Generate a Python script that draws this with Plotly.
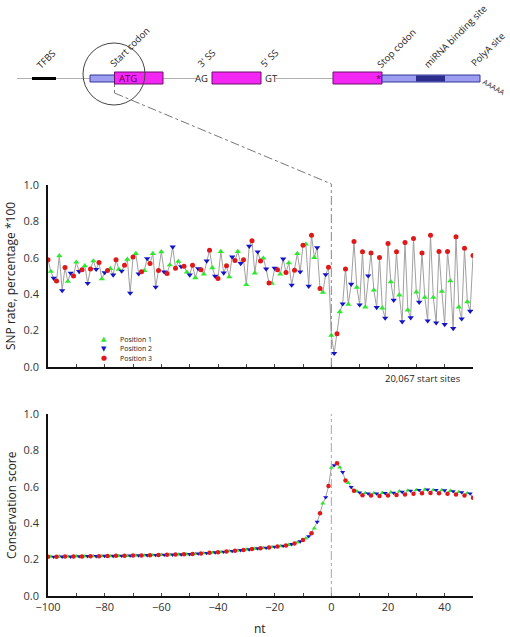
import plotly.graph_objects as go

# ---------------- data ----------------
nt = list(range(-100, 51))

snp_rate = [
    0.589, 0.525, 0.488, 0.472, 0.611, 0.420, 0.547, 0.470, 0.516, 0.500,
    0.576, 0.525, 0.534, 0.556, 0.460, 0.539, 0.583, 0.537, 0.574, 0.484,
    0.519, 0.530, 0.541, 0.506, 0.589, 0.537, 0.527, 0.559, 0.592, 0.406,
    0.605, 0.623, 0.512, 0.523, 0.530, 0.596, 0.569, 0.623, 0.439, 0.530,
    0.633, 0.523, 0.514, 0.561, 0.660, 0.543, 0.580, 0.552, 0.554, 0.521,
    0.506, 0.559, 0.490, 0.541, 0.534, 0.510, 0.583, 0.642, 0.545, 0.499,
    0.486, 0.634, 0.517, 0.556, 0.495, 0.605, 0.585, 0.634, 0.569, 0.589,
    0.452, 0.664, 0.693, 0.516, 0.633, 0.583, 0.598, 0.539, 0.461, 0.459,
    0.543, 0.534, 0.510, 0.594, 0.519, 0.572, 0.450, 0.532, 0.623, 0.523,
    0.669, 0.675, 0.444, 0.724, 0.601, 0.656, 0.431, 0.410, 0.508, 0.548,
    0.174, 0.075, 0.183, 0.303, 0.347, 0.539, 0.344, 0.455, 0.689, 0.437,
    0.342, 0.633, 0.329, 0.501, 0.627, 0.422, 0.327, 0.601, 0.324, 0.269,
    0.678, 0.468, 0.367, 0.633, 0.395, 0.249, 0.684, 0.313, 0.271, 0.706,
    0.411, 0.356, 0.627, 0.382, 0.254, 0.724, 0.382, 0.243, 0.634, 0.415,
    0.234, 0.634, 0.473, 0.212, 0.715, 0.329, 0.265, 0.653, 0.358, 0.307, 0.612,
]

conservation = [
    0.215, 0.216, 0.215, 0.216, 0.217, 0.216, 0.217, 0.217, 0.216, 0.217,
    0.218, 0.218, 0.217, 0.218, 0.219, 0.218, 0.219, 0.219, 0.218, 0.219,
    0.220, 0.220, 0.219, 0.220, 0.221, 0.220, 0.221, 0.221, 0.220, 0.222,
    0.222, 0.222, 0.223, 0.223, 0.223, 0.224, 0.224, 0.224, 0.225, 0.225,
    0.226, 0.226, 0.226, 0.227, 0.227, 0.228, 0.228, 0.228, 0.229, 0.229,
    0.230, 0.231, 0.232, 0.233, 0.234, 0.235, 0.236, 0.237, 0.238, 0.239,
    0.240, 0.241, 0.243, 0.244, 0.246, 0.247, 0.249, 0.250, 0.252, 0.253,
    0.255, 0.256, 0.258, 0.259, 0.261, 0.262, 0.264, 0.265, 0.267, 0.268,
    0.270, 0.272, 0.274, 0.276, 0.278, 0.281, 0.285, 0.289, 0.294, 0.300,
    0.308, 0.317, 0.328, 0.345, 0.372, 0.407, 0.454, 0.509, 0.542, 0.604,
    0.705, 0.718, 0.729, 0.707, 0.680, 0.634, 0.622, 0.598, 0.578, 0.575,
    0.568, 0.553, 0.566, 0.563, 0.552, 0.565, 0.563, 0.550, 0.567, 0.565,
    0.552, 0.570, 0.567, 0.555, 0.575, 0.572, 0.558, 0.580, 0.578, 0.562,
    0.583, 0.582, 0.565, 0.585, 0.585, 0.566, 0.583, 0.582, 0.565, 0.582,
    0.580, 0.562, 0.578, 0.575, 0.558, 0.572, 0.570, 0.552, 0.565, 0.563, 0.540,
]

position_names = ["Position 1", "Position 2", "Position 3"]
position_colors = ["#2ee82e", "#1414c8", "#e01818"]
position_symbols = ["triangle-up", "triangle-down", "circle"]

gene_labels = ["TFBS", "Start codon", "3' SS", "5' SS", "Stop codon",
               "miRNA binding site", "PolyA site"]

# ---------------- layout helpers ----------------
W, H = 510, 637
FONT = "Open Sans, Noto Sans, sans-serif"


def px(x):
    return x / W


def py(y):
    return 1 - y / H


fig = go.Figure()

# --- SNP rate panel (top) ---
fig.add_trace(go.Scatter(x=nt, y=snp_rate, mode="lines",
                         line=dict(color="#a0a0a0", width=1),
                         showlegend=False, hoverinfo="skip",
                         xaxis="x", yaxis="y"))
snp_sizes = [5.5, 5.5, 5]
for k in range(3):
    xs = [x for x in nt if x % 3 == k]
    ys = [v for x, v in zip(nt, snp_rate) if x % 3 == k]
    fig.add_trace(go.Scatter(x=xs, y=ys, mode="markers", name=position_names[k],
                             marker=dict(color=position_colors[k],
                                         symbol=position_symbols[k], size=snp_sizes[k],
                                         line=dict(width=0)),
                             showlegend=False, xaxis="x", yaxis="y"))

# --- Conservation panel (bottom) ---
fig.add_trace(go.Scatter(x=nt, y=conservation, mode="lines",
                         line=dict(color="#a0a0a0", width=1),
                         showlegend=False, hoverinfo="skip",
                         xaxis="x2", yaxis="y2"))
for k in range(3):
    xs = [x for x in nt if x % 3 == k]
    ys = [v for x, v in zip(nt, conservation) if x % 3 == k]
    fig.add_trace(go.Scatter(x=xs, y=ys, mode="markers", name=position_names[k],
                             marker=dict(color=position_colors[k],
                                         symbol=position_symbols[k], size=4.5,
                                         line=dict(width=0)),
                             showlegend=False, xaxis="x2", yaxis="y2"))

xdom = [px(48), px(473)]
tick_font = dict(family=FONT, size=11, color="#333333")

common_x = dict(range=[-100, 50], domain=xdom, showgrid=False, zeroline=False,
                showline=True, linecolor="#111111", linewidth=2,
                ticks="inside", ticklen=3, tickcolor="#444444",
                tickfont=tick_font, automargin=False, fixedrange=True)
common_y = dict(range=[0, 1], showgrid=False, zeroline=False, showline=True,
                linecolor="#111111", linewidth=1.5, ticks="",
                tickvals=[0, 0.2, 0.4, 0.6, 0.8, 1.0],
                ticktext=["0.0", "0.2", "0.4", "0.6", "0.8", "1.0"],
                tickfont=tick_font, automargin=False, fixedrange=True,
                ticklabelstandoff=5)

fig.update_layout(
    width=W, height=H,
    margin=dict(l=0, r=0, t=0, b=0),
    paper_bgcolor="white", plot_bgcolor="white",
    showlegend=False,
    xaxis=dict(common_x, anchor="y", dtick=10, showticklabels=False),
    yaxis=dict(common_y, anchor="x", domain=[py(367), py(185)]),
    xaxis2=dict(common_x, anchor="y2", dtick=20, tick0=-100,
                minor=dict(dtick=10, ticks="inside", ticklen=3, tickcolor="#444444")),
    yaxis2=dict(common_y, anchor="x2", domain=[py(596), py(414)]),
    font=dict(family=FONT, color="#222222"),
)

shapes = []
annotations = []

# vertical reference lines at nt = 0
shapes.append(dict(type="line", xref="x", yref="paper", x0=0, x1=0,
                   y0=py(367), y1=py(184),
                   line=dict(color="#888888", width=1, dash="dashdot")))
shapes.append(dict(type="line", xref="x2", yref="paper", x0=0, x1=0,
                   y0=py(596), y1=py(414),
                   line=dict(color="#a8a8a8", width=1, dash="dashdot")))
# zoom connector from start codon to panel
shapes.append(dict(type="line", xref="paper", yref="paper",
                   x0=px(114.5), y0=py(84), x1=px(114.5), y1=py(93),
                   line=dict(color="#777777", width=1, dash="dot")))
shapes.append(dict(type="line", xref="paper", yref="paper",
                   x0=px(114.5), y0=py(93), x1=px(331.5), y1=py(184),
                   line=dict(color="#777777", width=1, dash="dashdot")))

# --- gene model drawing ---
backbone_y = 78.5
shapes.append(dict(type="line", xref="paper", yref="paper",
                   x0=px(17), x1=px(197), y0=py(backbone_y), y1=py(backbone_y),
                   line=dict(color="#b0b0b0", width=1), layer="below"))
shapes.append(dict(type="line", xref="paper", yref="paper",
                   x0=px(276), x1=px(333), y0=py(backbone_y), y1=py(backbone_y),
                   line=dict(color="#b0b0b0", width=1), layer="below"))
# TFBS
shapes.append(dict(type="rect", xref="paper", yref="paper",
                   x0=px(32), x1=px(56), y0=py(80), y1=py(77),
                   fillcolor="black", line=dict(width=0)))
# 5' UTR
shapes.append(dict(type="rect", xref="paper", yref="paper",
                   x0=px(90), x1=px(115), y0=py(82), y1=py(75),
                   fillcolor="#9c9cf0", line=dict(color="#34349a", width=1)))
# exons (magenta)
for x0, x1 in [(114.5, 163), (212, 261), (333, 382)]:
    shapes.append(dict(type="rect", xref="paper", yref="paper",
                       x0=px(x0), x1=px(x1), y0=py(84), y1=py(72),
                       fillcolor="#f426f4", line=dict(color="#6a106a", width=1)))
# 3' UTR
shapes.append(dict(type="rect", xref="paper", yref="paper",
                   x0=px(382), x1=px(480), y0=py(82), y1=py(75),
                   fillcolor="#9c9cf0", line=dict(color="#34349a", width=1)))
shapes.append(dict(type="rect", xref="paper", yref="paper",
                   x0=px(416), x1=px(445), y0=py(81.5), y1=py(75.5),
                   fillcolor="#2c2c8c", line=dict(width=0)))
# magnifier circle
shapes.append(dict(type="circle", xref="paper", yref="paper",
                   x0=px(83), x1=px(145), y0=py(105), y1=py(43),
                   line=dict(color="#444444", width=1)))

small = dict(family=FONT, size=9.5, color="#222222")

annotations.append(dict(text="ATG", xref="paper", yref="paper",
                        x=px(117), y=py(78.5), xanchor="left", yanchor="middle",
                        showarrow=False, font=dict(family=FONT, size=9.5, color="#5a005a")))
annotations.append(dict(text="*", xref="paper", yref="paper",
                        x=px(378), y=py(78), xanchor="center", yanchor="middle",
                        showarrow=False, font=dict(family=FONT, size=9.5, color="#5a005a")))
annotations.append(dict(text="AG", xref="paper", yref="paper",
                        x=px(210), y=py(78.5), xanchor="right", yanchor="middle",
                        showarrow=False, font=small))
annotations.append(dict(text="GT", xref="paper", yref="paper",
                        x=px(263), y=py(78.5), xanchor="left", yanchor="middle",
                        showarrow=False, font=small))
annotations.append(dict(text="AAAAA", xref="paper", yref="paper",
                        x=px(494), y=py(87), xanchor="center", yanchor="middle",
                        textangle=30, showarrow=False,
                        font=dict(family=FONT, size=7.5, color="#222222")))

label_centers = [(46, 60), (129, 47), (206, 58), (269, 58), (396, 48),
                 (455, 36), (488, 50)]
for lab, (cx, cy) in zip(gene_labels, label_centers):
    annotations.append(dict(text=lab, xref="paper", yref="paper",
                            x=px(cx), y=py(cy), xanchor="center", yanchor="middle",
                            textangle=-45, showarrow=False, font=small))

# axis titles
annotations.append(dict(text="SNP rate, percentage *100", xref="paper", yref="paper",
                        x=px(11), y=py(276), xanchor="center", yanchor="middle",
                        textangle=-90, showarrow=False,
                        font=dict(family=FONT, size=12, color="#222222")))
annotations.append(dict(text="Conservation score", xref="paper", yref="paper",
                        x=px(11), y=py(505), xanchor="center", yanchor="middle",
                        textangle=-90, showarrow=False,
                        font=dict(family=FONT, size=12, color="#222222")))
annotations.append(dict(text="nt", xref="paper", yref="paper",
                        x=px(260), y=py(628), xanchor="center", yanchor="middle",
                        showarrow=False,
                        font=dict(family=FONT, size=12, color="#222222")))
annotations.append(dict(text="20,067 start sites", xref="paper", yref="paper",
                        x=px(463), y=py(378), xanchor="right", yanchor="middle",
                        showarrow=False,
                        font=dict(family=FONT, size=9.5, color="#222222")))

# manual legend
legend_glyphs = ["\u25B2", "\u25BC", "\u25CF"]
for k, gy in enumerate([339, 348.5, 358]):
    annotations.append(dict(text=legend_glyphs[k], xref="paper", yref="paper",
                            x=px(104), y=py(gy), xanchor="center", yanchor="middle",
                            showarrow=False,
                            font=dict(family="DejaVu Sans", size=7,
                                      color=position_colors[k])))
    annotations.append(dict(text=position_names[k], xref="paper", yref="paper",
                            x=px(118), y=py(gy), xanchor="left", yanchor="middle",
                            showarrow=False,
                            font=dict(family=FONT, size=7, color="#222222")))

fig.update_layout(shapes=shapes, annotations=annotations)

# remove the page's default 8px body margin so the figure fills the window exactly
fig.write_html("out.html", config=dict(displayModeBar=False),
               post_script="document.body.style.margin='0';document.body.style.overflow='hidden';")
